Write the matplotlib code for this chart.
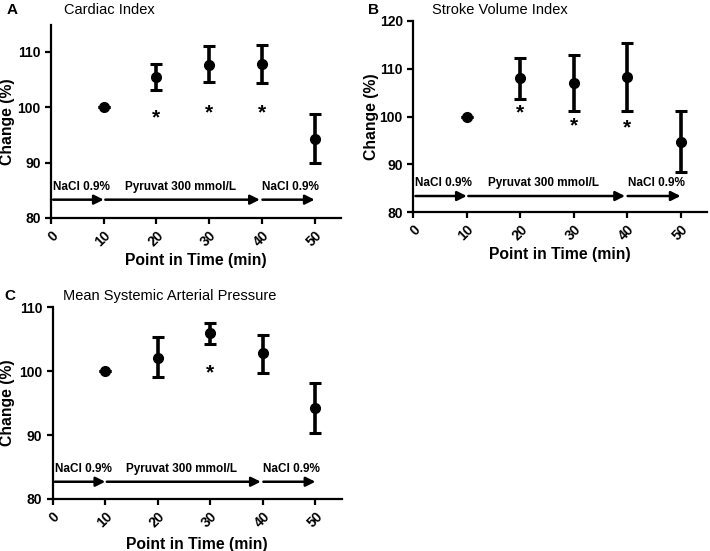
import matplotlib.pyplot as plt

plt.rcParams['font.family'] = ['Liberation Sans', 'DejaVu Sans']

times = [10, 20, 30, 40, 50]
xticks = [0, 10, 20, 30, 40, 50]

# Cardiac index (%): mean, lower and upper error bar ends
ci_mean = [100, 105.4, 107.6, 107.8, 94.3]
ci_low = [100, 103.1, 104.5, 104.4, 90.0]
ci_high = [100, 107.7, 110.95, 111.1, 98.7]
ci_star_x = [20, 30, 40]
ci_star_y = [98.0, 98.9, 99.0]

# Stroke volume index (%)
svi_mean = [100, 108.0, 106.9, 108.3, 94.6]
svi_low = [100, 103.6, 101.1, 101.1, 88.4]
svi_high = [100, 112.3, 112.8, 115.4, 101.1]
svi_star_x = [20, 30, 40]
svi_star_y = [100.8, 98.1, 97.7]

# Mean systemic arterial pressure (%)
map_mean = [100, 102.1, 105.9, 102.8, 94.2]
map_low = [100, 99.1, 104.2, 99.7, 90.4]
map_high = [100, 105.3, 107.6, 105.7, 98.1]
map_star_x = [30]
map_star_y = [99.8]

# infusion phases: (start, end, label x, label)
phases = [(0.4, 10, 0.4, 'NaCl 0.9%'), (10.3, 39.6, 14.0, 'Pyruvat 300 mmol/L'), (40.1, 50, 40.1, 'NaCl 0.9%')]


def panel(ax, mean, low, high, sx, sy, ylim, yticks, arrow_y, ylab_x, xlab_y):
    yerr = [[m - l for m, l in zip(mean, low)], [h - m for m, h in zip(mean, high)]]
    ax.errorbar(times, mean, yerr=yerr, fmt='o', color='black', ms=7,
                elinewidth=2.6, capsize=4, capthick=2.2)
    for x, y in zip(sx, sy):
        ax.text(x, y, '*', ha='center', va='center', fontsize=15, fontweight='bold')
    for x0, x1, lx, lab in phases:
        ax.annotate('', xy=(x1, arrow_y), xytext=(x0, arrow_y),
                    arrowprops=dict(arrowstyle='-|>', color='black', lw=1.8,
                                    mutation_scale=14, shrinkA=0, shrinkB=0))
        ax.text(lx, arrow_y + (ylim[1] - ylim[0]) * 0.035, lab, ha='left', va='bottom',
                fontsize=8.5, fontweight='bold')
    ax.set_xlim(0, 55)
    ax.set_ylim(*ylim)
    ax.set_xticks(xticks)
    ax.set_yticks(yticks)
    ax.set_xticklabels([str(t) for t in xticks], rotation=45, ha='right',
                       rotation_mode='anchor', fontweight='bold', fontsize=10)
    ax.set_yticklabels([str(t) for t in yticks], fontweight='bold', fontsize=10)
    for s in ['top', 'right']:
        ax.spines[s].set_visible(False)
    for s in ['left', 'bottom']:
        ax.spines[s].set_linewidth(1.6)
    ax.tick_params(width=1.6, length=4)
    ax.set_xlabel('Point in Time (min)', fontsize=11.3, fontweight='bold')
    ax.set_ylabel('Change (%)', fontsize=11.3, fontweight='bold')
    ax.xaxis.set_label_coords(0.5, xlab_y)
    ax.yaxis.set_label_coords(ylab_x, 0.5)


fig = plt.figure(figsize=(7.1, 5.51), dpi=100)

ax_a = fig.add_axes([0.0718, 0.6044, 0.4085, 0.3503])
panel(ax_a, ci_mean, ci_low, ci_high, ci_star_x, ci_star_y, (80, 114.8), [80, 90, 100, 110],
      83.3, -0.124, -0.181)

ax_b = fig.add_axes([0.5821, 0.6147, 0.4141, 0.3477])
panel(ax_b, svi_mean, svi_low, svi_high, svi_star_x, svi_star_y, (80, 120), [80, 90, 100, 110, 120],
      83.4, -0.115, -0.182)

ax_c = fig.add_axes([0.0742, 0.0944, 0.407, 0.3479])
panel(ax_c, map_mean, map_low, map_high, map_star_x, map_star_y, (80, 110), [80, 90, 100, 110],
      82.7, -0.13, -0.198)

fig.text(7 / 710, 1 - 10 / 551, 'A', fontsize=11, fontweight='bold', va='center')
fig.text(64 / 710, 1 - 10 / 551, 'Cardiac Index', fontsize=10.5, va='center')
fig.text(368 / 710, 1 - 10 / 551, 'B', fontsize=11, fontweight='bold', va='center')
fig.text(432 / 710, 1 - 10 / 551, 'Stroke Volume Index', fontsize=10.5, va='center')
fig.text(4 / 710, 1 - 296 / 551, 'C', fontsize=11, fontweight='bold', va='center')
fig.text(63 / 710, 1 - 296 / 551, 'Mean Systemic Arterial Pressure', fontsize=10.5, va='center')

plt.savefig('out.png', dpi=100)
